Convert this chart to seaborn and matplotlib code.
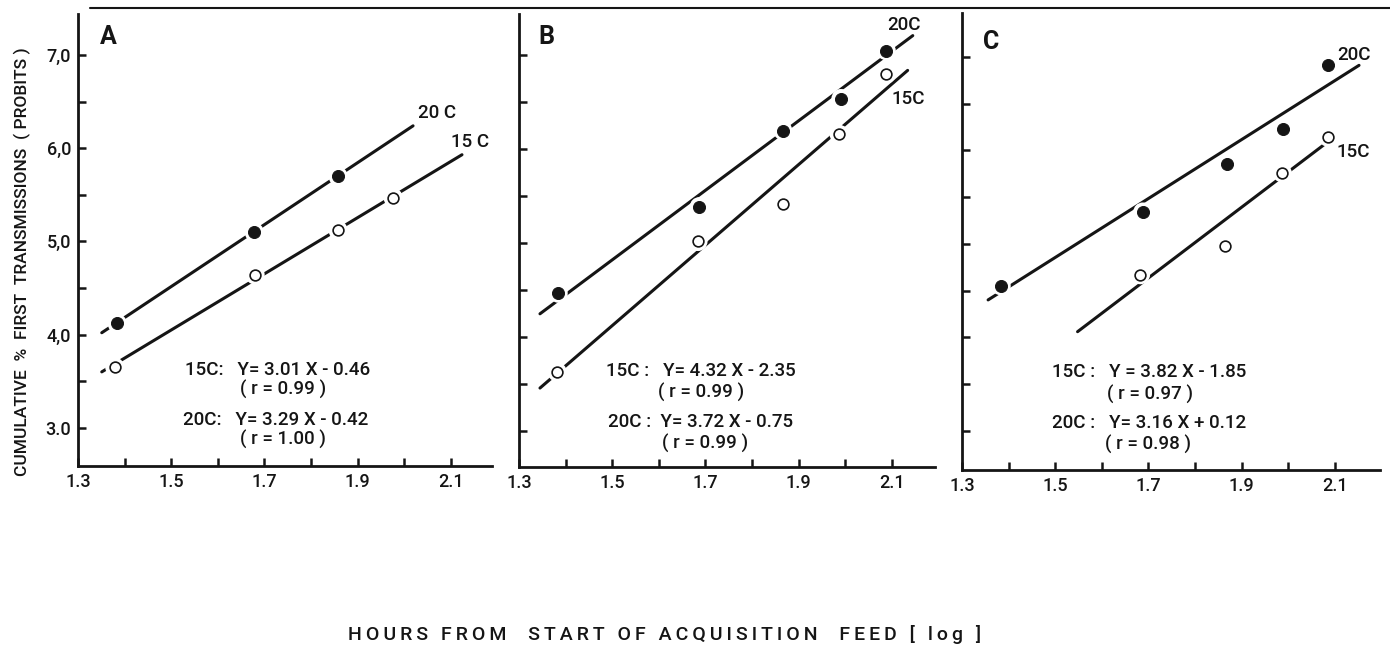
import numpy as np
import pandas as pd
import matplotlib.pyplot as plt
import seaborn as sns
from matplotlib.lines import Line2D

# ── Data (log hours vs probits) ──────────────────────────────────────────────
panels = ['A', 'B', 'C']

a_x20 = [1.384, 1.678, 1.858]
a_y20 = [4.12, 5.10, 5.70]
a_x15 = [1.379, 1.680, 1.858, 1.976]
a_y15 = [3.65, 4.64, 5.12, 5.47]

b_x20 = [1.384, 1.687, 1.866, 1.991, 2.088]
b_y20 = [4.47, 5.39, 6.20, 6.54, 7.05]
b_x15 = [1.382, 1.684, 1.866, 1.987, 2.088]
b_y15 = [3.63, 5.02, 5.42, 6.16, 6.80]

c_x20 = [1.384, 1.688, 1.868, 1.988, 2.086]
c_y20 = [4.55, 5.34, 5.85, 6.23, 6.91]
c_x15 = [1.683, 1.865, 1.987, 2.086]
c_y15 = [4.67, 4.98, 5.76, 6.14]

# fitted line end points
a_fit20 = ([1.351, 2.019], [4.02, 6.24])
a_fit15 = ([1.351, 2.124], [3.60, 5.93])
b_fit20 = ([1.345, 2.145], [4.25, 7.21])
b_fit15 = ([1.345, 2.134], [3.46, 6.84])
c_fit20 = ([1.356, 2.152], [4.40, 6.91])
c_fit15 = ([1.548, 2.082], [4.06, 6.08])

eq15 = ['15C:   Y= 3.01 X - 0.46', '15C :   Y= 4.32 X - 2.35', '15C :   Y = 3.82 X - 1.85']
r15 = ['( r = 0.99 )', '( r = 0.99 )', '( r = 0.97 )']
eq20 = ['20C:   Y= 3.29 X - 0.42', '20C :  Y= 3.72 X - 0.75', '20C :   Y= 3.16 X + 0.12']
r20 = ['( r = 1.00 )', '( r = 0.99 )', '( r = 0.98 )']
lab20 = ['20 C', '20C', '20C']
lab15 = ['15 C', '15C', '15C']

x_major = [1.3, 1.5, 1.7, 1.9, 2.1]
x_minor = [1.4, 1.6, 1.8, 2.0]
y_major = [3.0, 4.0, 5.0, 6.0, 7.0]
y_major_lab = ['3.0', '4,0', '5,0', '6,0', '7,0']
y_minor = [3.5, 4.5, 5.5, 6.5]

# ── Long tables ──────────────────────────────────────────────────────────────
pts = []
for p, (x20, y20, x15, y15) in zip(panels, [(a_x20, a_y20, a_x15, a_y15),
                                           (b_x20, b_y20, b_x15, b_y15),
                                           (c_x20, c_y20, c_x15, c_y15)]):
    pts += [(p, '20C', x, y) for x, y in zip(x20, y20)]
    pts += [(p, '15C', x, y) for x, y in zip(x15, y15)]
pts = pd.DataFrame(pts, columns=['panel', 'temp', 'x', 'y'])

fits = []
for p, f20, f15 in zip(panels, [a_fit20, b_fit20, c_fit20], [a_fit15, b_fit15, c_fit15]):
    fits += [(p, '20C', x, y) for x, y in zip(*f20)]
    fits += [(p, '15C', x, y) for x, y in zip(*f15)]
fits = pd.DataFrame(fits, columns=['panel', 'temp', 'x', 'y'])

# ── Figure ───────────────────────────────────────────────────────────────────
sns.set_style('ticks')
plt.rcParams['font.family'] = ['Roboto', 'Liberation Sans', 'DejaVu Sans']
plt.rcParams['font.weight'] = 'medium'
ink = '#151515'

W, H = 1390, 653
fig = plt.figure(figsize=(W / 100, H / 100), dpi=100)

# axes rectangles in pixels: left, right, top, bottom
rects = [(78, 492, 14, 466), (519, 935, 14, 467), (962, 1380, 13, 470)]
ylims = [(2.59, 7.44), (2.62, 7.44), (2.58, 7.47)]

txt_pos = {
    'A': dict(let=(1.347, 7.19), l20=(2.03, 6.38), l15=(2.10, 6.07),
              e15=(1.53, 3.62), r15=(1.74, 3.41), e20=(1.525, 3.08), r20=(1.74, 2.87)),
    'B': dict(let=(1.341, 7.19), l20=(2.09, 7.32), l15=(2.10, 6.54),
              e15=(1.486, 3.64), r15=(1.69, 3.41), e20=(1.49, 3.10), r20=(1.70, 2.87)),
    'C': dict(let=(1.345, 7.16), l20=(2.106, 7.02), l15=(2.104, 5.98),
              e15=(1.493, 3.63), r15=(1.703, 3.385), e20=(1.493, 3.085), r20=(1.70, 2.85)),
}
fs = 13.5

for i, p in enumerate(panels):
    l, r, t, b = rects[i]
    ax = fig.add_axes([l / W, 1 - b / H, (r - l) / W, (b - t) / H])
    sub_f = fits[fits.panel == p]
    sub_p = pts[pts.panel == p]

    sns.lineplot(data=sub_f, x='x', y='y', units='temp', estimator=None,
                 color=ink, lw=2.2, ax=ax, zorder=2, legend=False)
    # white halo makes the small gaps in the line around each point
    sns.scatterplot(data=sub_p, x='x', y='y', s=190, color='white',
                    edgecolor='none', ax=ax, zorder=3, legend=False)
    sns.scatterplot(data=sub_p[sub_p.temp == '20C'], x='x', y='y', s=75,
                    color=ink, edgecolor=ink, ax=ax, zorder=4, legend=False)
    sns.scatterplot(data=sub_p[sub_p.temp == '15C'], x='x', y='y', s=60,
                    color='white', edgecolor=ink, linewidth=1.2, ax=ax,
                    zorder=4, legend=False)

    ax.set_xlim(1.3, 1.3 + (r - l) / 466)
    ax.set_ylim(*ylims[i])
    sns.despine(ax=ax)
    for s in ['left', 'bottom']:
        ax.spines[s].set_linewidth(2)
        ax.spines[s].set_color(ink)

    ax.set_xticks(x_major)
    ax.set_xticklabels([f'{v:.1f}' for v in x_major])
    ax.set_xticks(x_minor, minor=True)
    ax.set_yticks(y_major)
    ax.set_yticks(y_minor, minor=True)
    if i == 0:
        ax.set_yticklabels(y_major_lab)
    else:
        ax.set_yticklabels([])
    ax.tick_params(which='both', direction='in', length=6, width=1.8,
                   color=ink, labelcolor=ink, labelsize=13)
    ax.tick_params(axis='x', pad=5)
    ax.tick_params(axis='y', pad=5)
    ax.set_xlabel('')
    ax.set_ylabel('')
    ax.patch.set_alpha(0)

    tp = txt_pos[p]
    ax.text(*tp['let'], p, fontsize=18, fontweight='bold', color=ink,
            ha='left', va='center')
    ax.text(*tp['l20'], lab20[i], fontsize=fs, color=ink, ha='left', va='center')
    ax.text(*tp['l15'], lab15[i], fontsize=fs, color=ink, ha='left', va='center')
    ax.text(*tp['e15'], eq15[i], fontsize=fs, color=ink, ha='left', va='center')
    ax.text(*tp['r15'], r15[i], fontsize=fs, color=ink, ha='center', va='center')
    ax.text(*tp['e20'], eq20[i], fontsize=fs, color=ink, ha='left', va='center')
    ax.text(*tp['r20'], r20[i], fontsize=fs, color=ink, ha='center', va='center')

fig.add_artist(Line2D([90 / W, 1.0], [1 - 8 / H] * 2, lw=1.5, color=ink))

fig.text(22 / W, 1 - 262 / H, 'CUMULATIVE  %  FIRST  TRANSMISSIONS  ( PROBITS )',
         rotation=90, ha='center', va='center', fontsize=12.5, color=ink)

xlab = 'HOURS FROM  START OF ACQUISITION  FEED [ log ]'
xlab_spaced = '\u2009'.join(xlab)
fig.text(665 / W, 1 - 635 / H, xlab_spaced,
         ha='center', va='center', fontsize=14, color=ink)

fig.savefig('out.png', dpi=100)
